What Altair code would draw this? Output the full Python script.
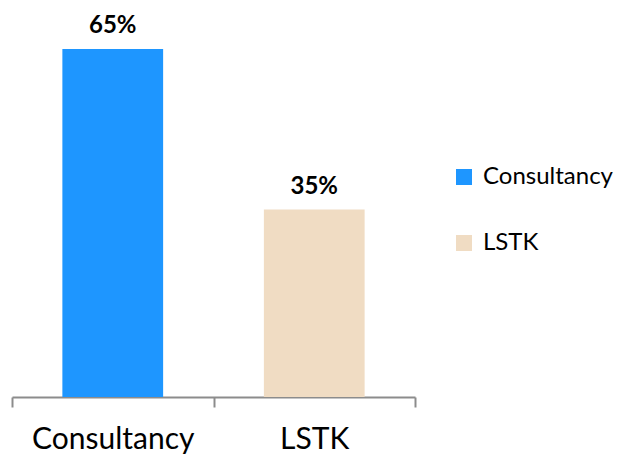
import altair as alt
import pandas as pd

categories = ["Consultancy", "LSTK"]
values = [65, 35]
labels = ["65%", "35%"]
colors = ["#1E96FF", "#F0DCC3"]

df = pd.DataFrame({"cat": categories, "val": values, "lab": labels})

x = alt.X("cat:N", sort=categories, title=None,
          scale=alt.Scale(paddingInner=0, paddingOuter=0),
          axis=alt.Axis(labelAngle=0, labelFontSize=30, labelColor="#000000",
                        labelFont="Lato", tickBand="extent", tickSize=10,
                        tickWidth=2, tickColor="#8C8C8C", domainColor="#8C8C8C",
                        domainWidth=2, labelPadding=17, grid=False))
y = alt.Y("val:Q", scale=alt.Scale(domain=[0, 65], nice=False), axis=None)

bars = alt.Chart(df).mark_bar(width=alt.RelativeBandSize(0.5)).encode(
    x=x, y=y,
    color=alt.Color("cat:N", sort=categories,
                    scale=alt.Scale(domain=categories, range=colors),
                    legend=alt.Legend(title=None, orient="none", legendX=440, legendY=116,
                                      symbolType="square", symbolSize=256,
                                      symbolStrokeWidth=0, labelFontSize=24,
                                      labelFont="Lato", labelColor="#000000",
                                      rowPadding=42, labelOffset=7, padding=0))
)

text = alt.Chart(df).mark_text(baseline="alphabetic", dy=-16, fontSize=24,
                               fontWeight="bold", font="Lato", color="#000000").encode(
    x=alt.X("cat:N", sort=categories), y=y, text="lab:N")

chart = (bars + text).properties(
    width=403, height=348,
    autosize=alt.AutoSizeParams(type="none"),
    padding={"left": 4, "top": 41, "right": 200, "bottom": 60},
).configure_view(stroke=None)

chart.save("out.html", embed_options={"renderer": "svg", "actions": False})
